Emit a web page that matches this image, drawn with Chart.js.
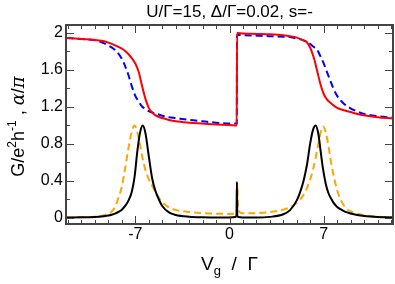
<!DOCTYPE html>
<html>
<head>
<meta charset="utf-8">
<script src="https://cdn.jsdelivr.net/npm/chart.js@4/dist/chart.umd.min.js"></script>
<style>
  html, body { margin: 0; padding: 0; background: #fff; }
  canvas { display: block; }
</style>
</head>
<body>
<canvas id="chart" width="395" height="284"></canvas>
<script>
// conductance curves (Vg/Gamma grid shared by both)
const vgG = [-12.1, -11, -10, -9.5, -9, -8.5, -8, -7.75, -7.5, -7.25, -7, -6.75, -6.5, -6.25, -6, -5.75, -5.5, -5, -4.5, -4, -3, -2, -1, 0, 0.54,
             0.56, 1, 2, 3, 4, 4.5, 5, 5.5, 5.75, 6, 6.25, 6.5, 6.75, 7, 7.25, 7.5, 7.75, 8, 8.5, 9, 9.5, 10, 11, 12.1];
const gSolid = [1.945, 1.935, 1.925, 1.915, 1.895, 1.865, 1.83, 1.805, 1.77, 1.725, 1.67, 1.58, 1.43, 1.29, 1.19, 1.14, 1.11, 1.08, 1.06, 1.045, 1.03, 1.02, 1.01, 1.005, 1.0,
                2.0, 1.995, 1.99, 1.985, 1.975, 1.965, 1.95, 1.92, 1.90, 1.84, 1.74, 1.60, 1.45, 1.34, 1.28, 1.245, 1.215, 1.19, 1.165, 1.145, 1.125, 1.11, 1.09, 1.075];
const gDashed = [1.945, 1.935, 1.92, 1.90, 1.865, 1.815, 1.72, 1.64, 1.54, 1.42, 1.32, 1.26, 1.205, 1.18, 1.155, 1.14, 1.13, 1.105, 1.09, 1.08, 1.06, 1.045, 1.03, 1.02, 1.02,
                 1.98, 1.975, 1.97, 1.965, 1.96, 1.955, 1.94, 1.92, 1.905, 1.88, 1.85, 1.82, 1.75, 1.67, 1.575, 1.48, 1.39, 1.32, 1.235, 1.185, 1.15, 1.125, 1.10, 1.084];

// alpha/pi curves
const vgA = [-12.1, -11, -10, -9.5, -9, -8.75, -8.5, -8.25, -8, -7.75, -7.5, -7.25, -7.05, -6.85, -6.65, -6.45, -6.25, -6, -5.75, -5.5, -5.25, -5, -4.5, -4, -3, -2, -1, 0,
             0.45, 0.52, 0.55, 0.58, 0.65, 1, 2, 3, 4, 4.5, 5, 5.25, 5.5, 5.75, 6, 6.2, 6.4, 6.6, 6.8, 6.95, 7.15, 7.35, 7.55, 7.75, 8, 8.25, 8.5, 8.75, 9, 9.5, 10, 11, 12.1];
const aSolid = [0.004, 0.007, 0.012, 0.017, 0.027, 0.035, 0.047, 0.065, 0.09, 0.13, 0.19, 0.29, 0.45, 0.72, 0.92, 1.0, 0.92, 0.67, 0.43, 0.29, 0.20, 0.13, 0.06, 0.033, 0.014, 0.007, 0.004, 0.005,
                0.012, 0.03, 0.39, 0.02, 0.012, 0.005, 0.005, 0.012, 0.04, 0.085, 0.19, 0.28, 0.40, 0.57, 0.81, 0.95, 1.0, 0.91, 0.69, 0.53, 0.37, 0.27, 0.21, 0.16, 0.12, 0.095, 0.075, 0.06, 0.048, 0.032, 0.022, 0.011, 0.005];
const aDashed = [0.005, 0.008, 0.014, 0.025, 0.045, 0.07, 0.12, 0.22, 0.34, 0.54, 0.76, 0.94, 1.0, 0.93, 0.79, 0.64, 0.52, 0.42, 0.35, 0.28, 0.22, 0.17, 0.115, 0.088, 0.064, 0.052, 0.046, 0.044,
                 0.045, 0.05, 0.07, 0.37, 0.09, 0.05, 0.052, 0.064, 0.09, 0.115, 0.165, 0.20, 0.25, 0.32, 0.42, 0.52, 0.65, 0.80, 0.94, 0.99, 0.93, 0.78, 0.60, 0.45, 0.30, 0.20, 0.135, 0.095, 0.07, 0.045, 0.03, 0.015, 0.007];

const xTicks = [-7, 0, 7];
const yTicks = [0, 0.4, 0.8, 1.2, 1.6, 2];

const pts = (xs, ys) => xs.map((x, i) => ({ x: x, y: ys[i] }));
const FONT = '"Liberation Sans", Arial, sans-serif';

// frame, inward ticks and the texts
const framePlugin = {
    id: 'frame',
    afterDraw(chart) {
        const ctx = chart.ctx;
        const a = chart.chartArea;
        const sx = chart.scales.x, sy = chart.scales.y;
        ctx.save();
        ctx.strokeStyle = '#444';
        ctx.lineWidth = 1;
        for (let v = -12; v <= 12; v++) {
            const p = Math.round(sx.getPixelForValue(v)) + 0.5;
            const len = xTicks.includes(v) ? 8 : 4;
            ctx.beginPath();
            ctx.moveTo(p, a.bottom); ctx.lineTo(p, a.bottom - len);
            ctx.moveTo(p, a.top); ctx.lineTo(p, a.top + len);
            ctx.stroke();
        }
        for (let k = 0; k <= 10; k++) {
            const v = k * 0.2;
            const p = Math.round(sy.getPixelForValue(v)) + 0.5;
            const len = k % 2 === 0 ? 8 : 4;
            ctx.beginPath();
            ctx.moveTo(a.left, p); ctx.lineTo(a.left + len, p);
            ctx.moveTo(a.right, p); ctx.lineTo(a.right - len, p);
            ctx.stroke();
        }
        ctx.lineWidth = 2;
        ctx.strokeRect(a.left, a.top, a.right - a.left, a.bottom - a.top);

        ctx.fillStyle = '#000';
        ctx.textBaseline = 'alphabetic';
        // title
        ctx.font = '17px ' + FONT;
        ctx.textAlign = 'center';
        ctx.fillText('U/\u0393=15, \u0394/\u0393=0.02, s=-', (a.left + a.right) / 2, 17);

        // x title: V_g / Gamma
        const big = '19px ' + FONT;
        const small = '13px ' + FONT;
        const rest = '  /  \u0393';
        ctx.textAlign = 'left';
        ctx.font = big; const wV = ctx.measureText('V').width;
        ctx.font = small; const wg = ctx.measureText('g').width;
        ctx.font = big; const wR = ctx.measureText(rest).width;
        let x0 = (a.left + a.right) / 2 - (wV + wg + wR) / 2;
        const yb = 270;
        ctx.font = big; ctx.fillText('V', x0, yb); x0 += wV;
        ctx.font = small; ctx.fillText('g', x0, yb + 5); x0 += wg;
        ctx.font = big; ctx.fillText(rest, x0, yb);

        // y title
        ctx.translate(24, (a.top + a.bottom) / 2 + 2);
        ctx.rotate(-Math.PI / 2);
        const parts = [
            ['G/e', '18px ' + FONT, 0],
            ['2', '12px ' + FONT, -8],
            ['h', '18px ' + FONT, 0],
            ['-1', '12px ' + FONT, -8],
            [' , ', '18px ' + FONT, 0],
            ['\u03b1', 'italic 18px "DejaVu Serif", serif', 0],
            ['/', '18px ' + FONT, 0],
            ['\u03c0', 'italic 18px "DejaVu Serif", serif', 0]
        ];
        let tw = 0;
        parts.forEach(p => { ctx.font = p[1]; tw += ctx.measureText(p[0]).width; });
        let px = -tw / 2;
        parts.forEach(p => {
            ctx.font = p[1];
            ctx.fillText(p[0], px, p[2]);
            px += ctx.measureText(p[0]).width;
        });
        ctx.restore();
    }
};

const common = { pointRadius: 0, borderWidth: 2, fill: false, cubicInterpolationMode: 'monotone' };

new Chart(document.getElementById('chart').getContext('2d'), {
    type: 'line',
    data: {
        datasets: [
            { ...common, data: pts(vgG, gSolid), borderColor: '#ff0000' },
            { ...common, data: pts(vgG, gDashed), borderColor: '#0000ff', borderDash: [7, 4] },
            { ...common, data: pts(vgA, aSolid), borderColor: '#000000' },
            { ...common, data: pts(vgA, aDashed), borderColor: '#ffa500', borderDash: [7, 4] }
        ]
    },
    options: {
        responsive: false,
        animation: false,
        devicePixelRatio: 1,
        layout: { padding: { top: 25, right: 2, left: 0, bottom: 0 } },
        plugins: { legend: { display: false }, tooltip: { enabled: false }, title: { display: false } },
        scales: {
            x: {
                type: 'linear', min: -12.15, max: 12.15,
                grid: { display: false, drawTicks: false }, border: { display: false },
                afterFit: s => { s.height = 60; },
                afterBuildTicks: s => { s.ticks = xTicks.map(v => ({ value: v })); },
                ticks: {
                    padding: 1, color: '#000', maxRotation: 0,
                    font: { size: 16, family: FONT },
                    callback: v => String(v)
                }
            },
            y: {
                type: 'linear', min: -0.065, max: 2.086,
                grid: { display: false, drawTicks: false }, border: { display: false },
                afterFit: s => { s.width = 66; },
                afterBuildTicks: s => { s.ticks = yTicks.map(v => ({ value: v })); },
                ticks: {
                    padding: 3, color: '#000',
                    font: { size: 16, family: FONT },
                    callback: v => String(Number(v.toFixed(1)))
                }
            }
        }
    },
    plugins: [framePlugin]
});
</script>
</body>
</html>
